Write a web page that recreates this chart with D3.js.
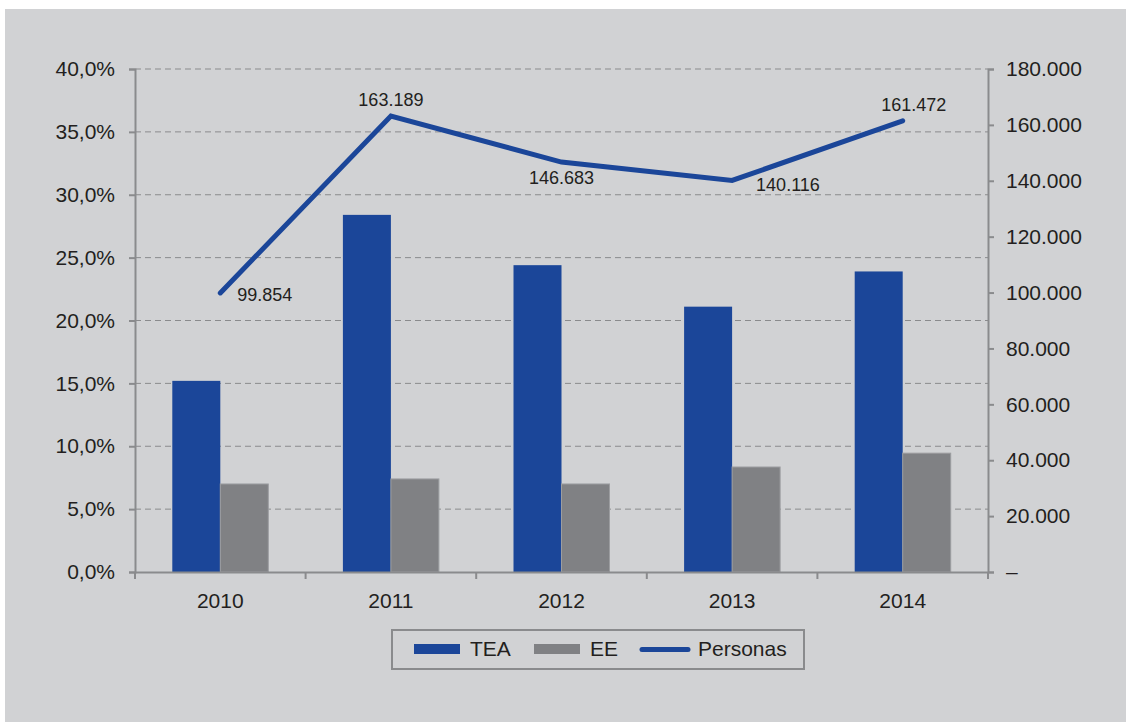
<!DOCTYPE html>
<html>
<head>
<meta charset="utf-8">
<script src="https://cdn.jsdelivr.net/npm/d3@7"></script>
<style>
    body { margin: 0; background: #ffffff; }
    svg text { font-family: "Liberation Sans", Arial, sans-serif; fill: #231f20; }
</style>
</head>
<body>
<script>
//chart data
var years = ["2010", "2011", "2012", "2013", "2014"];
var tea = [15.2, 28.4, 24.4, 21.1, 23.9];
var ee = [7.0, 7.4, 7.0, 8.35, 9.45];
var personas = [99854, 163189, 146683, 140116, 161472];
var personasLabels = ["99.854", "163.189", "146.683", "140.116", "161.472"];
var labelPlace = ["right", "above", "below", "right", "above"];
var leftTicks = [0, 5, 10, 15, 20, 25, 30, 35, 40];
var rightTicks = [0, 20000, 40000, 60000, 80000, 100000, 120000, 140000, 160000, 180000];
var legendItems = ["TEA", "EE", "Personas"];

window.onload = drawChart();

function drawChart(){

    var width = 1126,
        height = 722;

    var blue = "#1b4699",
        grey = "#808184",
        axisGrey = "#8a8b8d";

    var svg = d3.select("body")
        .append("svg")
        .attr("width", width)
        .attr("height", height);

    //grey panel
    svg.append("rect")
        .attr("x", 5)
        .attr("y", 9)
        .attr("width", width - 5)
        .attr("height", height - 9)
        .attr("fill", "#d1d2d4");

    var left = 135, right = 988, top = 69, bottom = 572;

    var x = d3.scaleBand()
        .domain(years)
        .range([left, right]);

    var yLeft = d3.scaleLinear()
        .domain([0, 40])
        .range([bottom, top]);

    var yRight = d3.scaleLinear()
        .domain([0, 180000])
        .range([bottom, top]);

    var barW = 48;

    //dashed gridlines
    svg.selectAll(".grid")
        .data(leftTicks.slice(1))
        .enter()
        .append("line")
        .attr("class", "grid")
        .attr("x1", left)
        .attr("x2", right)
        .attr("y1", function(d){ return yLeft(d); })
        .attr("y2", function(d){ return yLeft(d); })
        .attr("stroke", axisGrey)
        .attr("stroke-width", 1)
        .attr("stroke-dasharray", "6,4");

    //bars
    svg.selectAll(".tea")
        .data(tea)
        .enter()
        .append("rect")
        .attr("class", "tea")
        .attr("x", function(d, i){ return x(years[i]) + x.bandwidth() / 2 - barW; })
        .attr("y", function(d){ return yLeft(d); })
        .attr("width", barW)
        .attr("height", function(d){ return bottom - yLeft(d); })
        .attr("fill", blue);

    svg.selectAll(".ee")
        .data(ee)
        .enter()
        .append("rect")
        .attr("class", "ee")
        .attr("x", function(d, i){ return x(years[i]) + x.bandwidth() / 2; })
        .attr("y", function(d){ return yLeft(d); })
        .attr("width", barW)
        .attr("height", function(d){ return bottom - yLeft(d); })
        .attr("fill", grey)
        .attr("stroke", "#9c9da0")
        .attr("stroke-width", 1);

    //left axis
    var leftAxis = d3.axisLeft(yLeft)
        .tickValues(leftTicks)
        .tickSize(6)
        .tickPadding(14)
        .tickFormat(function(d){ return d.toFixed(1).replace(".", ",") + "%"; });

    var gl = svg.append("g")
        .attr("transform", "translate(" + left + ",0)")
        .call(leftAxis);

    //right axis
    var rightAxis = d3.axisRight(yRight)
        .tickValues(rightTicks)
        .tickSize(6)
        .tickPadding(12)
        .tickFormat(function(d){ return d === 0 ? "\u2013" : d3.format(",")(d).replace(/,/g, "."); });

    var gr = svg.append("g")
        .attr("transform", "translate(" + right + ",0)")
        .call(rightAxis);

    //bottom axis
    var xAxis = d3.axisBottom(x)
        .tickSize(0)
        .tickPadding(21);

    var gb = svg.append("g")
        .attr("transform", "translate(0," + bottom + ")")
        .call(xAxis);

    [gl, gr, gb].forEach(function(g){
        g.select(".domain").attr("stroke", axisGrey).attr("stroke-width", 2);
        g.selectAll(".tick line").attr("stroke", axisGrey).attr("stroke-width", 2);
        g.selectAll("text")
            .attr("fill", "#231f20")
            .style("font-size", "21px")
            .style("font-family", "'Liberation Sans', Arial, sans-serif");
    });

    //category boundary ticks
    svg.selectAll(".xtick")
        .data(years.concat(["end"]))
        .enter()
        .append("line")
        .attr("class", "xtick")
        .attr("x1", function(d, i){ return left + i * x.step(); })
        .attr("x2", function(d, i){ return left + i * x.step(); })
        .attr("y1", bottom)
        .attr("y2", bottom + 7)
        .attr("stroke", axisGrey)
        .attr("stroke-width", 2);

    //Personas line
    var line = d3.line()
        .x(function(d, i){ return x(years[i]) + x.bandwidth() / 2; })
        .y(function(d){ return yRight(d); });

    svg.append("path")
        .datum(personas)
        .attr("d", line)
        .attr("fill", "none")
        .attr("stroke", blue)
        .attr("stroke-width", 5)
        .attr("stroke-linecap", "round")
        .attr("stroke-linejoin", "miter");

    //line labels
    svg.selectAll(".plabel")
        .data(personas)
        .enter()
        .append("text")
        .attr("class", "plabel")
        .attr("x", function(d, i){
            var cx = x(years[i]) + x.bandwidth() / 2;
            if (labelPlace[i] === "right") return cx + (i === 0 ? 17 : 24);
            if (i === 4) return cx + 11;
            return cx;
        })
        .attr("y", function(d, i){
            var cy = yRight(d);
            if (labelPlace[i] === "above") return cy - 10;
            if (labelPlace[i] === "below") return cy + 22;
            return cy + (i === 0 ? 8 : 11);
        })
        .attr("text-anchor", function(d, i){ return labelPlace[i] === "right" ? "start" : "middle"; })
        .style("font-size", "18px")
        .text(function(d, i){ return personasLabels[i]; });

    //legend
    var legend = svg.append("g");

    legend.append("rect")
        .attr("x", 392)
        .attr("y", 630)
        .attr("width", 412)
        .attr("height", 39)
        .attr("fill", "none")
        .attr("stroke", axisGrey)
        .attr("stroke-width", 2);

    var legendX = [414, 534, 640];

    legendItems.forEach(function(name, i){
        if (i < 2) {
            legend.append("rect")
                .attr("x", legendX[i])
                .attr("y", 644)
                .attr("width", 46)
                .attr("height", 10)
                .attr("fill", i === 0 ? blue : grey);
        } else {
            legend.append("line")
                .attr("x1", legendX[i] + 2)
                .attr("x2", legendX[i] + 48)
                .attr("y1", 649.5)
                .attr("y2", 649.5)
                .attr("stroke", blue)
                .attr("stroke-width", 5)
                .attr("stroke-linecap", "round");
        }
        legend.append("text")
            .attr("x", legendX[i] + (i < 2 ? 56 : 58))
            .attr("y", 656)
            .style("font-size", "21px")
            .text(name);
    });
};
</script>
</body>
</html>
